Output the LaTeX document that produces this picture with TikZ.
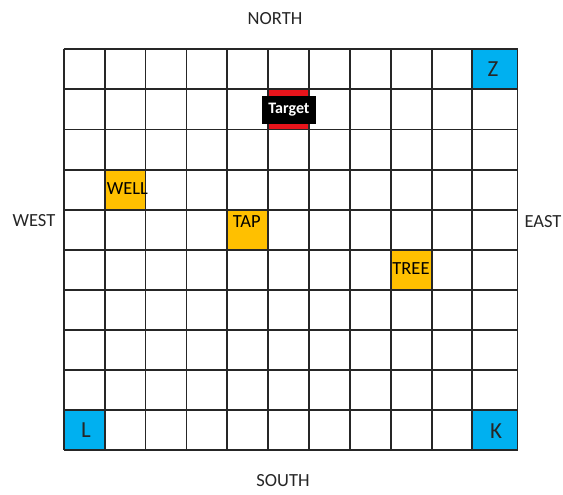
\documentclass[tikz,border=0pt]{standalone}
\usepackage{fontspec}
\setmainfont{Carlito}
\definecolor{gridline}{HTML}{262626}
\definecolor{orangecell}{HTML}{FFC000}
\definecolor{bluecell}{HTML}{00B0F0}
\definecolor{redcell}{HTML}{E8141B}
\begin{document}
\begin{tikzpicture}[x=1pt,y=-1pt,
  dirtext/.style={inner sep=0pt, font=\fontsize{18.5}{20}\selectfont, text=black!85},
  celltext/.style={inner sep=0pt, font=\fontsize{18.5}{20}\selectfont, text=black},
  bigtext/.style={inner sep=0pt, font=\fontsize{23}{25}\selectfont, text=black!85},
  targetbox/.style={fill=black, minimum width=53.4pt, minimum height=28.6pt, inner sep=0pt,
     text=white, font=\fontsize{16}{18}\selectfont\bfseries},
  gridstyle/.style={draw=gridline, line width=1.8pt}
]
\useasboundingbox (0,0) rectangle (563,495);
\fill[white] (0,0) rectangle (563,495);
% column and row coordinates
\def\colxs{63.7,104.6,145.5,186.4,227.3,268.2,309.1,350,390.9,431.8,472.3,517.5}
\def\rowys{49.3,89.4,129.5,169.6,209.7,249.8,289.9,330,370.1,410.2,450.3}
% coloured cells
\fill[bluecell] (472.3,49.3) rectangle (517.5,89.4);
\fill[bluecell] (63.7,410.2) rectangle (104.6,450.3);
\fill[bluecell] (472.3,410.2) rectangle (517.5,450.3);
\fill[orangecell] (104.6,169.6) rectangle (145.5,209.7);
\fill[orangecell] (227.3,209.7) rectangle (268.2,249.8);
\fill[orangecell] (390.9,249.8) rectangle (431.8,289.9);
\fill[redcell] (268.2,89.4) rectangle (309.1,129.5);
% grid
\foreach \x in \colxs { \draw[gridstyle] (\x,49.3) -- (\x,450.3); }
\foreach \y in \rowys { \draw[gridstyle] (63.7,\y) -- (517.5,\y); }
% labels
\node[dirtext] (north) at (275,18.3) {NORTH};
\node[dirtext] (south) at (283,481) {SOUTH};
\node[dirtext] (west) at (34,220.5) {WEST};
\node[dirtext] (east) at (543,222) {EAST};
\node[celltext] (well) at (127.5,188.7) {WELL};
\node[celltext] (tap) at (246.7,221.7) {TAP};
\node[celltext] (tree) at (411,268.3) {TREE};
\node[bigtext] (z) at (493,69.2) {Z};
\node[bigtext] (l) at (86,429.7) {L};
\node[bigtext] (k) at (496,430.8) {K};
\node[targetbox] (target) at (289,110) {Target};
\end{tikzpicture}
\end{document}
